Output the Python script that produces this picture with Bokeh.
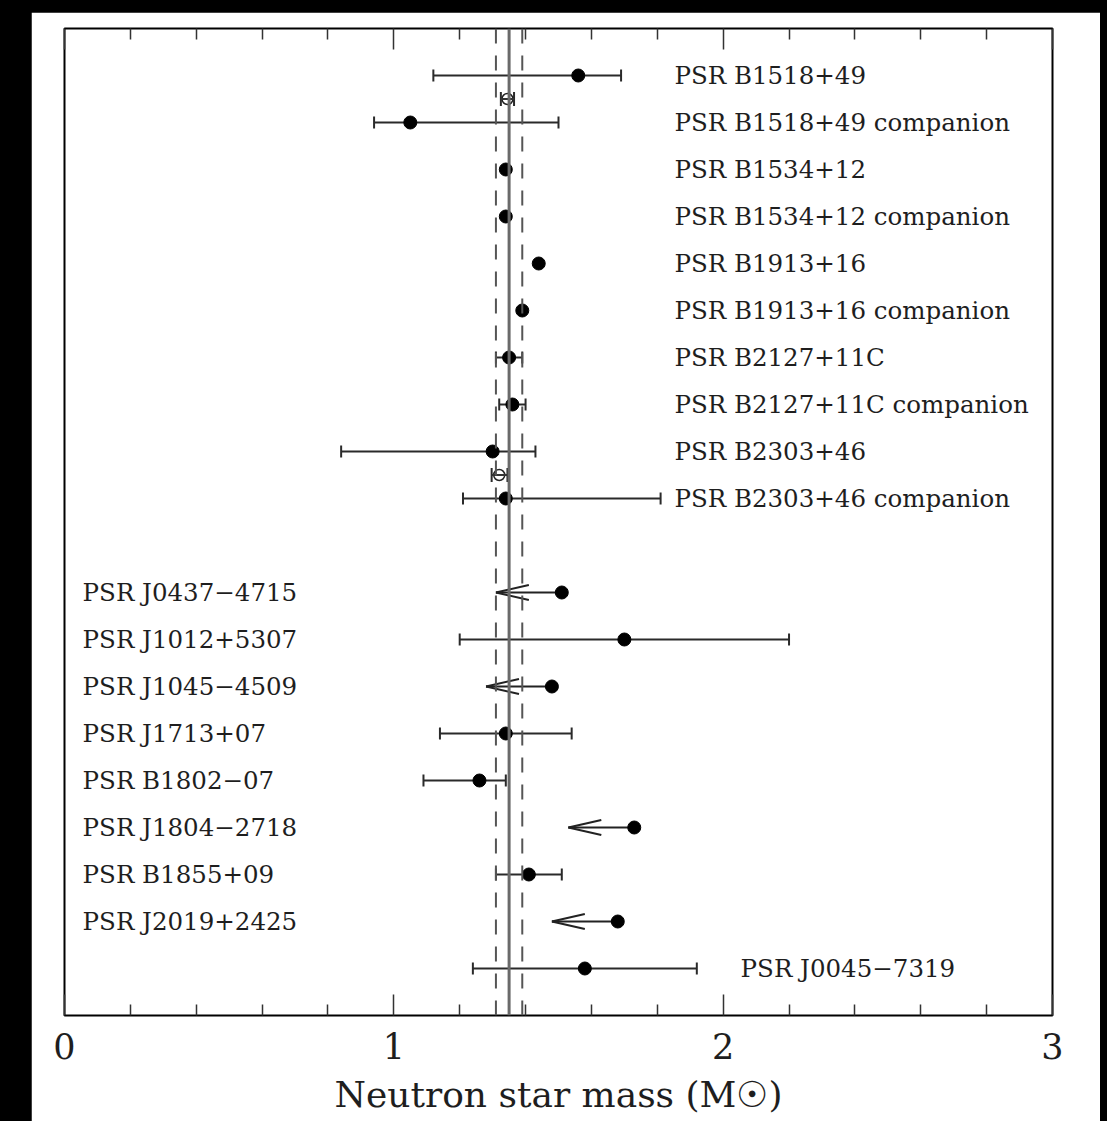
from bokeh.plotting import figure
from bokeh.models import (FixedTicker, LinearAxis, Span, Whisker, ColumnDataSource,
                          TeeHead, Range1d)
from bokeh.layouts import column
from bokeh.embed import file_html
from bokeh.resources import INLINE
from bokeh.core.properties import value

# ---------------- data ----------------
names = ["PSR B1518+49", "PSR B1518+49 companion", "PSR B1534+12",
         "PSR B1534+12 companion", "PSR B1913+16", "PSR B1913+16 companion",
         "PSR B2127+11C", "PSR B2127+11C companion", "PSR B2303+46",
         "PSR B2303+46 companion", "PSR J0437\u22124715", "PSR J1012+5307",
         "PSR J1045\u22124509", "PSR J1713+07", "PSR B1802\u221207",
         "PSR J1804\u22122718", "PSR B1855+09", "PSR J2019+2425", "PSR J0045\u22127319"]
rows = [1, 2, 3, 4, 5, 6, 7, 8, 9, 10, 12, 13, 14, 15, 16, 17, 18, 19, 20]
mass = [1.56, 1.05, 1.34, 1.34, 1.44, 1.39, 1.35, 1.36, 1.30, 1.34,
        1.51, 1.70, 1.48, 1.34, 1.26, 1.73, 1.41, 1.68, 1.58]
label_group = ["right"] * 10 + ["left"] * 8 + ["far"]

# two-sided error bars
err_rows = [1, 2, 7, 8, 9, 10, 13, 15, 16, 18, 20]
err_lo = [1.12, 0.94, 1.31, 1.32, 0.84, 1.21, 1.20, 1.14, 1.09, 1.31, 1.24]
err_hi = [1.69, 1.50, 1.39, 1.40, 1.43, 1.81, 2.20, 1.54, 1.34, 1.51, 1.92]

# upper limits (arrows)
lim_rows = [12, 14, 17, 19]
lim_from = [1.51, 1.48, 1.73, 1.68]
lim_to = [1.31, 1.28, 1.53, 1.48]

# pair-averaged masses (open symbols)
pair_rows = [1.5, 9.5]
pair_mass = [1.345, 1.32]
pair_lo = [1.325, 1.297]
pair_hi = [1.365, 1.345]

mean_mass = 1.35
mean_sigma = 0.04

x_ticks = [0, 1, 2, 3]
x_minor = [0.2, 0.4, 0.6, 0.8, 1.2, 1.4, 1.6, 1.8, 2.2, 2.4, 2.6, 2.8]

# ---------------- style ----------------
FONT = "DejaVu Serif"
INK = "#1e1e1e"
TICK = "#333"
group_x = {"right": 1.852, "left": 0.055, "far": 2.053}
head_len = 0.10
head_half = 0.16

p = figure(width=1069, height=1109, output_backend="svg", toolbar_location=None,
           x_range=Range1d(0, 3), y_range=Range1d(21, 0),
           y_axis_location=None, x_axis_location="below",
           min_border_left=33, min_border_right=48, min_border_top=16,
           min_border_bottom=106, background_fill_color="white",
           border_fill_color="white", outline_line_color="black",
           outline_line_width=2)
p.xgrid.visible = False
p.ygrid.visible = False

ticker = FixedTicker(ticks=x_ticks, minor_ticks=x_minor)
ax = p.xaxis[0]
ax.ticker = ticker
ax.axis_line_color = None
ax.major_tick_in = 21
ax.major_tick_out = 0
ax.minor_tick_in = 11
ax.minor_tick_out = 0
ax.major_tick_line_color = TICK
ax.minor_tick_line_color = TICK
ax.major_tick_line_width = 1.5
ax.minor_tick_line_width = 1.5
ax.major_label_text_font = FONT
ax.major_label_text_font_size = "35px"
ax.major_label_text_color = INK
ax.major_label_standoff = 17
ax.axis_label = "Neutron star mass (M\u2609)"
ax.axis_label_text_font = FONT
ax.axis_label_text_font_size = "36px"
ax.axis_label_text_font_style = "normal"
ax.axis_label_text_color = INK
ax.axis_label_standoff = 12

# top ticks: two label-free axes (ticks drawn as "minor" so no tick labels exist)
top_minor = LinearAxis(ticker=FixedTicker(ticks=[], minor_ticks=x_minor),
                       axis_line_color=None, major_tick_in=0, major_tick_out=0,
                       minor_tick_in=11, minor_tick_out=0,
                       minor_tick_line_color=TICK, minor_tick_line_width=1.5,
                       major_label_standoff=0)
top_major = LinearAxis(ticker=FixedTicker(ticks=[], minor_ticks=x_ticks),
                       axis_line_color=None, major_tick_in=0, major_tick_out=0,
                       minor_tick_in=21, minor_tick_out=0,
                       minor_tick_line_color=TICK, minor_tick_line_width=1.5,
                       major_label_standoff=0)
p.add_layout(top_minor, "above")
p.add_layout(top_major, "above")

# mean and +-sigma lines
p.add_layout(Span(location=mean_mass, dimension="height", line_color="#6a6a6a",
                  line_width=3))
for loc in (mean_mass - mean_sigma, mean_mass + mean_sigma):
    p.add_layout(Span(location=loc, dimension="height", line_color="#555",
                      line_width=2, line_dash="15 12"))

# error bars
esrc = ColumnDataSource(dict(y=err_rows, lo=err_lo, hi=err_hi))
p.add_layout(Whisker(source=esrc, base="y", lower="lo", upper="hi", dimension="width",
                     line_color="#2a2a2a", line_width=2,
                     lower_head=TeeHead(size=12, line_color="#2a2a2a", line_width=2),
                     upper_head=TeeHead(size=12, line_color="#2a2a2a", line_width=2)))

psrc = ColumnDataSource(dict(y=pair_rows, lo=pair_lo, hi=pair_hi))
p.add_layout(Whisker(source=psrc, base="y", lower="lo", upper="hi", dimension="width",
                     line_color="#2a2a2a", line_width=2,
                     lower_head=TeeHead(size=14, line_color="#2a2a2a", line_width=2),
                     upper_head=TeeHead(size=14, line_color="#2a2a2a", line_width=2)))

# upper-limit arrows
p.segment(x0=lim_from, y0=lim_rows, x1=lim_to, y1=lim_rows, line_color="#222", line_width=2)
hx = [t + head_len for t in lim_to]
p.segment(x0=lim_to, y0=lim_rows, x1=hx, y1=[r - head_half for r in lim_rows],
          line_color="#222", line_width=2)
p.segment(x0=lim_to, y0=lim_rows, x1=hx, y1=[r + head_half for r in lim_rows],
          line_color="#222", line_width=2)

# points
p.scatter(x=mass, y=rows, size=13, marker="circle", fill_color="black", line_color="black")
p.scatter(x=pair_mass, y=pair_rows, size=11, marker="circle", fill_color="white",
          line_color="#222", line_width=1.5)
p.segment(x0=pair_lo, y0=pair_rows, x1=pair_hi, y1=pair_rows, line_color="#333", line_width=2)

# labels
lx = [group_x[g] for g in label_group]
p.text(x=lx, y=rows, text=names, text_font=value(FONT), text_font_size="24.5px",
       text_baseline="middle", text_align="left", text_color=INK)

layout = column(p, styles={"background-color": "black", "padding-left": "31px",
                           "padding-top": "12px", "padding-right": "7px"})

open("out.html", "w").write(file_html(layout, INLINE))
